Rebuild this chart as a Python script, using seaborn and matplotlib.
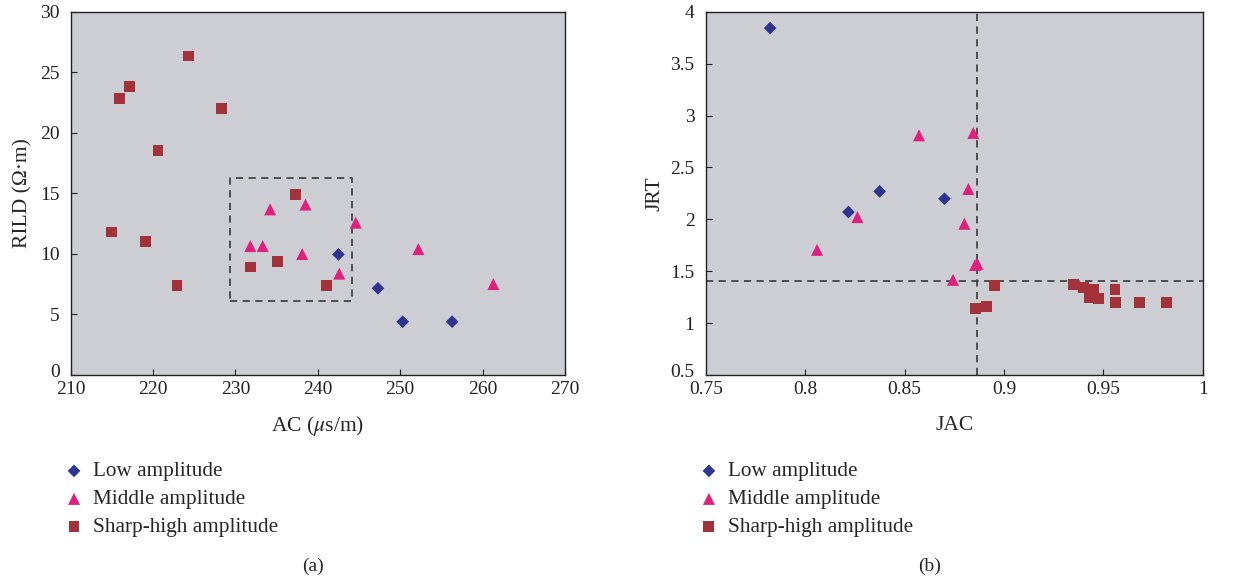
import pandas as pd
import matplotlib.pyplot as plt
import matplotlib.transforms as mtransforms
import seaborn as sns

# (a) AC vs RILD
low_ac = [242.5, 247.3, 250.3, 256.3]
low_rild = [9.96, 7.16, 4.40, 4.40]
mid_ac = [234.2, 238.5, 244.6, 231.8, 233.3, 238.1, 242.6, 252.2, 261.3]
mid_rild = [13.68, 14.07, 12.58, 10.65, 10.65, 9.99, 8.37, 10.40, 7.51]
high_ac = [224.3, 217.1, 215.9, 228.3, 220.6, 215.0, 219.1, 222.9, 237.3, 231.8, 235.1, 241.1]
high_rild = [26.34, 23.86, 22.87, 21.99, 18.50, 11.81, 11.01, 7.38, 14.89, 8.92, 9.39, 7.38]

# (b) JAC vs JRT
low_jac = [0.7824, 0.8218, 0.8375, 0.8701]
low_jrt = [3.842, 2.070, 2.269, 2.198]
mid_jac = [0.8573, 0.8846, 0.8821, 0.8263, 0.8801, 0.8060, 0.8855, 0.8867, 0.8744]
mid_jrt = [2.809, 2.832, 2.292, 2.021, 1.957, 1.706, 1.56, 1.57, 1.417]
high_jac = [0.8955, 0.8858, 0.8912, 0.9351, 0.9400, 0.9452, 0.9428, 0.9474, 0.9559, 0.9562, 0.9681, 0.9817]
high_jrt = [1.362, 1.137, 1.163, 1.368, 1.346, 1.320, 1.243, 1.233, 1.327, 1.195, 1.201, 1.201]

groups = ['Low amplitude', 'Middle amplitude', 'Sharp-high amplitude']

# dashed guides
box_x = [229.3, 244.1]
box_y = [6.1, 16.3]
jac_cut = 0.8867
jrt_cut = 1.404

colors = {'Low amplitude': '#2e3590', 'Middle amplitude': '#e0207f', 'Sharp-high amplitude': '#a4323a'}
markers = {'Low amplitude': 'D', 'Middle amplitude': '^', 'Sharp-high amplitude': 's'}
sizes = {'Low amplitude': 42, 'Middle amplitude': 75, 'Sharp-high amplitude': 62}


def make_df(lx, ly, mx, my, hx, hy):
    return pd.concat([
        pd.DataFrame({'x': lx, 'y': ly, 'group': groups[0]}),
        pd.DataFrame({'x': mx, 'y': my, 'group': groups[1]}),
        pd.DataFrame({'x': hx, 'y': hy, 'group': groups[2]}),
    ])


df_a = make_df(low_ac, low_rild, mid_ac, mid_rild, high_ac, high_rild)
df_b = make_df(low_jac, low_jrt, mid_jac, mid_jrt, high_jac, high_jrt)

sns.set_style('ticks')
plt.rcParams['font.family'] = ['Liberation Serif', 'DejaVu Serif']
plt.rcParams['mathtext.fontset'] = 'stix'

fig = plt.figure(figsize=(12.37, 5.82), dpi=100)
ax1 = fig.add_axes([70.7 / 1237, 1 - 375 / 582, (565 - 70.7) / 1237, (375 - 11.7) / 582])
ax2 = fig.add_axes([705.7 / 1237, 1 - 375 / 582, (1202.7 - 705.7) / 1237, (375 - 11.7) / 582])

for ax, df in [(ax1, df_a), (ax2, df_b)]:
    for g in groups:
        sub = df[df['group'] == g]
        sns.scatterplot(ax=ax, data=sub, x='x', y='y', marker=markers[g], color=colors[g],
                        s=sizes[g], edgecolor='none', label=g, zorder=3)
    ax.set_facecolor('#cdced3')
    for sp in ax.spines.values():
        sp.set_color('#222222')
        sp.set_linewidth(1.0)
    ax.tick_params(direction='in', length=4, labelsize=14, colors='#222222')
    ax.tick_params(axis='x', pad=4)
    ax.tick_params(axis='y', pad=8)
    ax.legend(loc='upper left', bbox_to_anchor=(-0.032, -0.215), frameon=False, fontsize=15.3,
              handletextpad=0.4, labelspacing=0.38, borderaxespad=0, handlelength=1.0)

# (a)
ax1.set_xlim(210, 270)
ax1.set_ylim(0, 30)
ax1.set_xticks(range(210, 271, 10))
ax1.set_yticks(range(0, 31, 5))
ax1.set_xlabel(r'AC ($\mu$s/m)', fontsize=15.5, labelpad=12)
ax1.set_ylabel('RILD (Ω·m)', fontsize=15.5, labelpad=5.5)
ax1.plot([box_x[0], box_x[1], box_x[1], box_x[0], box_x[0]],
         [box_y[0], box_y[0], box_y[1], box_y[1], box_y[0]],
         ls='--', color='#444444', lw=1.3, dashes=(4, 3), zorder=2)

# (b)
ax2.set_xlim(0.75, 1.0)
ax2.set_ylim(0.5, 4)
ax2.set_xticks([0.75, 0.8, 0.85, 0.9, 0.95, 1.0])
ax2.set_xticklabels(['0.75', '0.8', '0.85', '0.9', '0.95', '1'])
ax2.set_yticks([0.5, 1, 1.5, 2, 2.5, 3, 3.5, 4])
ax2.set_yticklabels(['0.5', '1', '1.5', '2', '2.5', '3', '3.5', '4'])
ax2.set_xlabel('JAC', fontsize=15.5, labelpad=13)
ax2.set_ylabel('JRT', fontsize=15.5, labelpad=4)
ax2.axvline(jac_cut, ls='--', color='#444444', lw=1.3, dashes=(4, 3), zorder=2)
ax2.axhline(jrt_cut, ls='--', color='#444444', lw=1.3, dashes=(4, 3), zorder=2)

# lift the lowest y tick label a little so it clears the first x tick label
for ax in (ax1, ax2):
    lab = ax.get_yticklabels()[0]
    lab.set_transform(lab.get_transform() + mtransforms.ScaledTranslation(0, 3 / 72, fig.dpi_scale_trans))

fig.text(313 / 1237, 1 - 566 / 582, '(a)', ha='center', va='center', fontsize=14)
fig.text(930 / 1237, 1 - 566 / 582, '(b)', ha='center', va='center', fontsize=14)

plt.savefig('out.png', dpi=100)
